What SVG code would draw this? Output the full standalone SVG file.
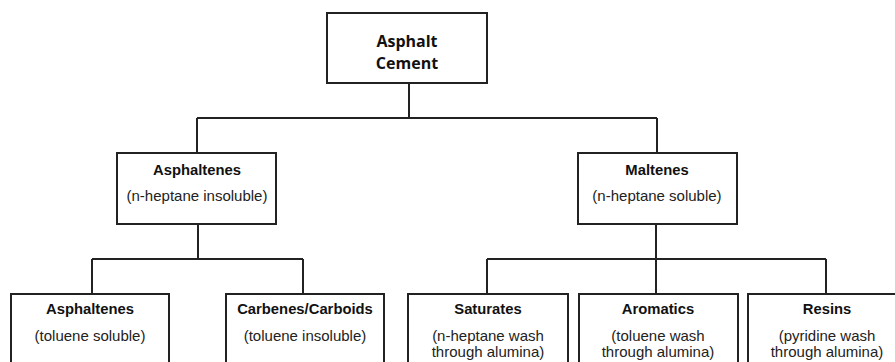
<svg xmlns="http://www.w3.org/2000/svg" width="895" height="362" viewBox="0 0 895 362">
<style>
.box{fill:#fff;stroke:#222;stroke-width:2}
.ln{fill:none;stroke:#222;stroke-width:2}
.t{font-family:"Liberation Sans",Arial,sans-serif;font-size:14.8px;font-weight:bold;fill:#111;text-anchor:middle}
.s{font-family:"Liberation Sans",Arial,sans-serif;font-size:15px;fill:#222;text-anchor:middle}
.top{font-family:"Open Sans","Liberation Sans",sans-serif;font-size:16px;font-weight:bold;fill:#111;text-anchor:middle}
</style>
<rect width="895" height="362" fill="#fff"/>
<g id="connectors">
<path class="ln" d="M409,83 V118 M197,118 H657 M197,118 V153 M657,118 V153"/>
<path class="ln" d="M198,224 V259 M92,259 H303 M92,259 V294 M303,259 V294"/>
<path class="ln" d="M656,224 V259 M487,259 H826 M487,259 V294 M656,259 V294 M826,259 V294"/>
</g>
<g id="asphalt-cement">
<rect class="box" x="327" y="13" width="160" height="70"/>
<text class="top" x="407" y="47">Asphalt</text>
<text class="top" x="407" y="69">Cement</text>
</g>
<g id="asphaltenes">
<rect class="box" x="117" y="153" width="159" height="71"/>
<text class="t" x="197" y="175">Asphaltenes</text>
<text class="s" x="197" y="201">(n-heptane insoluble)</text>
</g>
<g id="maltenes">
<rect class="box" x="578" y="153" width="159" height="71"/>
<text class="t" x="657" y="175">Maltenes</text>
<text class="s" x="657" y="201">(n-heptane soluble)</text>
</g>
<g id="asphaltenes-toluene">
<rect class="box" x="11" y="294" width="158" height="90"/>
<text class="t" x="90" y="314">Asphaltenes</text>
<text class="s" x="90" y="341">(toluene soluble)</text>
</g>
<g id="carbenes">
<rect class="box" x="226" y="294" width="158" height="90"/>
<text class="t" x="305" y="314">Carbenes/Carboids</text>
<text class="s" x="305" y="341">(toluene insoluble)</text>
</g>
<g id="saturates">
<rect class="box" x="408" y="294" width="160" height="90"/>
<text class="t" x="488" y="314">Saturates</text>
<text class="s" x="488" y="341">(n-heptane wash</text>
<text class="s" x="488" y="357">through alumina)</text>
</g>
<g id="aromatics">
<rect class="box" x="579" y="294" width="159" height="90"/>
<text class="t" x="658" y="314">Aromatics</text>
<text class="s" x="658" y="341">(toluene wash</text>
<text class="s" x="658" y="357">through alumina)</text>
</g>
<g id="resins">
<rect class="box" x="748" y="294" width="159" height="90"/>
<text class="t" x="827" y="314">Resins</text>
<text class="s" x="827" y="341">(pyridine wash</text>
<text class="s" x="827" y="357">through alumina)</text>
</g>
</svg>
